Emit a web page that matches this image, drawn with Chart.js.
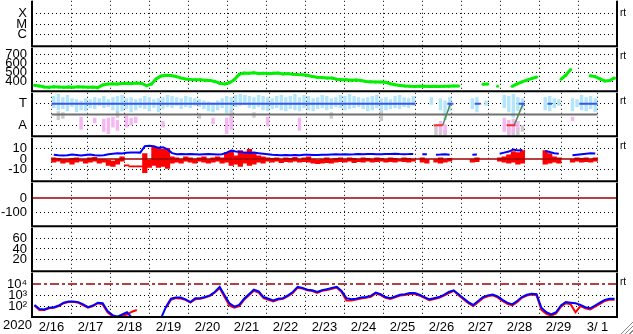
<!DOCTYPE html>
<html>
<head>
<meta charset="utf-8">
<script src="https://cdn.jsdelivr.net/npm/chart.js@4.4.1/dist/chart.umd.min.js"></script>
<style>
  body { margin: 0; background: #fff; width: 633px; height: 334px; position: relative; overflow: hidden;
         font-family: "Liberation Sans", Arial, sans-serif; }
  canvas { position: absolute; left: 0; }
  .rt { position: absolute; left: 620px; font-size: 10px; line-height: 12px; color: #000; }
  #year { position: absolute; left: 3px; top: 318px; font-size: 13px; line-height: 14px; color: #000; }
  #grip { position: absolute; left: 619px; top: 320px; width: 14px; height: 14px;
          background: repeating-linear-gradient(-45deg, #fff 0 2px, #8a8a8a 2px 3px);
          clip-path: polygon(100% 0, 100% 100%, 0 100%); }
</style>
</head>
<body>
<canvas id="xray"></canvas>
<canvas id="speed"></canvas>
<canvas id="sector"></canvas>
<canvas id="bz"></canvas>
<canvas id="dst"></canvas>
<canvas id="kp"></canvas>
<canvas id="flux"></canvas>
<div id="year">2020</div>
<div class="rt" style="top:7px">rt</div>
<div class="rt" style="top:50px">rt</div>
<div class="rt" style="top:95px">rt</div>
<div class="rt" style="top:140px">rt</div>
<div class="rt" style="top:276px">rt</div>
<div id="grip"></div>
<script>
// day labels (one per day, centred at noon), x axis is hours from 2/16 00:00
const dayLabels = ["2/16", "2/17", "2/18", "2/19", "2/20", "2/21", "2/22", "2/23",
  "2/24", "2/25", "2/26", "2/27", "2/28", "2/29", "3/ 1"];

// solar wind speed (km/s), 3-hourly
const speedKms = [
  356, 350, 338, 336, 340, 337, 335, 338, 336, 339,
  337, 334, 336, 330, 360, 370, 375, 372, 378, 380,
  376, 382, 378, 352, 372, 430, 462, 470, 466, 455,
  440, 428, 422, 420, 418, 415, 412, 400, 380, 372,
  385, 420, 480, 495, 492, 498, 490, 494, 488, 492,
  495, 485, 490, 482, 478, 476, 470, 455, 448, 445,
  440, 438, 425, 420, 418, 415, 416, 410, 400, 398,
  395, 394, 390, 375, 362, 355, 348, 346, 344, 347,
  345, 343, 346, 344, 347, 345, 348, 350, null, null,
  null, null, 368, 372, null, 345, null, null, 345, 372,
  395, 415, 432, 450, null, null, null, null, 425, 470,
  535, null, null, null, 465, 455, 430, 405, 410, 440];

// IMF sector (T = toward = 1, A = away = -1), 3-hourly spread of the points
const towardLow = [
  0.6, 0.4, 0.5, 0.3, 0.7, 0.2, 0.4, 0.3, 0.6, 0.5,
  0.8, 0.6, 0.7, 0.4, 0.2, 0.3, 0.5, 0.2, 0.4, 0.6,
  0.5, 0.3, 0.6, 0.2, 0.5, 0.7, 0.6, 0.8, 0.5, 0.7,
  0.6, 0.8, 0.7, 0.5, 0.3, 0.2, 0.4, 0.6, 0.1, 0.3,
  0.7, 0.8, 0.9, 0.6, 0.5, 0.7, 0.4, 0.3, 0.5, 0.6,
  0.4, 0.3, 0.5, 0.4, 0.3, 0.6, 0.4, 0.3, 0.5, 0.6,
  0.4, 0.5, 0.7, 0.6, 0.4, 0.5, 0.6, 0.7, 0.5, 0.3,
  0.4, 0.6, 0.2, 0.4, 0.5, 0.6, 0.5, 0.7, 0.6, 0.8,
  null, null, null, 0.9, null, 0.4, -0.5, 0.3, null, null,
  null, null, 0.5, 0.2, null, 0.8, null, null, null, 0.6,
  0.2, -0.3, 0.3, 0.5, null, null, null, null, 0.4, 0.3,
  0.6, 0.8, null, null, 0.3, 0.7, 0.4, 0.3, 0.5, 0.2];
const towardHigh = [
  1.7, 1.9, 1.6, 1.8, 1.5, 1.4, 1.3, 1.5, 1.4, 1.6,
  1.5, 1.7, 1.4, 1.6, 1.7, 1.8, 1.5, 1.6, 1.4, 1.5,
  1.7, 1.6, 1.4, 1.5, 1.6, 1.8, 1.7, 1.6, 1.5, 1.7,
  1.6, 1.5, 1.4, 1.3, 1.2, 1.1, 1.3, 1.5, 1.7, 1.6,
  1.8, 1.9, 1.8, 1.7, 1.6, 1.8, 1.7, 1.6, 1.5, 1.7,
  1.8, 1.6, 1.7, 1.9, 1.6, 1.8, 1.7, 1.5, 1.6, 1.8,
  1.7, 1.5, 1.6, 1.8, 1.7, 1.9, 1.7, 1.6, 1.5, 1.6,
  1.7, 1.8, 1.5, 1.6, 1.4, 1.7, 1.8, 1.6, 1.5, 1.7,
  null, null, null, 1.6, null, 1.5, 1.3, 1.6, null, null,
  null, null, 1.5, 1.6, null, 1.3, null, null, null, 1.8,
  1.7, 1.9, 1.6, 1.5, null, null, null, null, 1.6, 1.7,
  1.5, 1.4, null, null, 1.5, 1.4, 1.8, 1.6, 1.7, 1.5];
const awayBins = [6, 9, 11, 12, 13, 14, 16, 17, 18, 24, 35, 38, 39, 47, 54, 85, 86, 99, 100, 101, 102, 114];
const awayLow = [-1.4, -0.8, -1.6, -1.8, -1.2, -1.5, -1.2, -1.0, -0.8, -1.2, -0.9, -1.8, -1.4, -1.1, -1.5, -1.5, -1.8, -1.6, -1.9, -1.7, -1.4, -0.6];
const awayHigh = [-0.2, -0.3, -0.4, -0.3, -0.2, -0.5, -0.1, -0.3, -0.2, -0.6, -0.3, -0.3, -0.2, -0.2, -0.3, -0.6, -0.9, -0.3, -0.5, -0.4, -0.6, -0.2];
const mixedBins = [1, 2, 14, 32, 39, 44, 61, 72, 84, 85, 86, 100, 101, 102, 103];
const mixedLow = [-0.5, -0.4, -0.3, -0.4, -0.6, -0.3, -0.4, -0.6, -1.9, -1.9, -1.9, -1.9, -1.9, -1.9, -1.6];
const mixedHigh = [0.3, 0.2, 0.3, 0.1, 0.4, 0.2, 0.2, 0.3, -1.0, -1.3, -1.4, -1.2, -1.3, -1.2, -1.0];
// predicted sector spans (hours)
const towardSpans = [[0, 240], [261, 265], [279, 283], [308, 312], [327, 330], [348, 360]];
const awaySpans = [[252, 258], [300, 306]];
const sectorTurns = [[258, 263], [305, 311]];

// IMF Bt and Bz (nT), 3-hourly
const btNt = [
  4, 3.5, 3.2, 3.6, 4.2, 3.8, 3.4, 3.8, 4.2, 3.6,
  3.2, 3.5, 4.5, 5, 5.5, 5.2, 5.8, 6, 6.2, 6,
  12, 12.5, 12, 10.5, 11, 9, 5.5, 4.5, 4.8, 4.4,
  4.6, 4.5, 4.2, 4.4, 4.6, 4.5, 4.3, 4.5, 6, 8,
  7, 6.5, 6, 5.8, 6, 5.5, 5, 4.5, 4, 3.8,
  3.6, 3.8, 3.5, 3.7, 3.6, 3.9, 4, 3.8, 3.7, 3.9,
  4.1, 4.3, 4.4, 4.2, 4.5, 4.3, 4.4, 4.6, 4.5, 4.8,
  4.7, 4.5, 4.4, 4.6, 4.8, 5, 4.7, 4.5, 4.6, 4.8,
  null, 4.5, 4.5, null, 4, 4.2, 4.5, 4, null, null,
  null, null, 4, 4.2, null, null, null, null, 5, 6,
  7, 9, 8, 8.5, null, null, null, null, 7.5, 6.5,
  5.5, 5, null, null, 3.5, 4, 4.5, 5, 5.5, 5.2];
const bzLow = [
  -3, -2, -4, -3, -5, -3, -2, -4, -3, -2,
  -4, -3, -6, -7, -5, -2, -6.5, -7.5, -7.5, -7.5,
  -13, -8, -6, -8, -7, -9, -4, -3, -4, -2,
  -3, -4, -2, -3, -4, -3, -2, -4, -3, -6,
  -5, -7, -4, -6, -5, -3, -4, -2, -3, -2,
  -3.5, -2.5, -3, -2, -3, -2.5, -3, -4, -4.5, -4,
  -3.5, -4, -3, -2.5, -3, -2, -3.5, -2.5, -3, -2,
  -3, -2.5, -2, -3, -2.5, -3, -2, -2.5, -3, -2,
  null, -3, -4, null, -3, -4, -3, -2, null, null,
  null, null, -3, -2.5, null, null, null, null, -2, -3,
  -4, -3, -5, -4, null, null, null, null, -5, -4,
  -3, -4, null, null, -3, -2, -3, -2.5, -3, -2];
const bzHigh = [
  1, 0.5, 0, -0.5, 0.5, 1, 0, -0.5, 1, 1.5,
  0, -0.5, -1, -2, 0, 2, -5.5, -6.5, -6.5, -6.5,
  5, -1, 12, 11, 9, 10, 2, 1, 0, 2,
  1, 0, 1, 2, 0, 1, 2, 1, 6, 7,
  3, 8, 6, 9, 5, 3, 2, 1, 0.5, 1,
  0, 1, 0.5, 1.5, 0, 1, 2, 0, -1, -0.5,
  1, 0, 0.5, 1, 0, 1, 0.5, 0, 1, 0.5,
  0, 1, 0.5, 0, 1, 0.5, 0, 1, 0.5, 0,
  null, 1, 0, null, 0, 1, 0, 0.5, null, null,
  null, null, 0, 1, null, null, null, null, 1, 2,
  4, 7, 6, 8, null, null, null, null, 8, 5,
  2, 1, null, null, 0, 1, 0.5, 1, 0, 1];

// electron flux, log10 values, 3-hourly
const fluxBlueLog = [
  2.15, 1.8, 1.75, 1.9, 1.95, 2.1, 2.35, 2.45, 2.45, 2.4,
  2.2, 1.95, 2.1, 2.35, 2.3, 1.6, 1.25, 1.1, 1.3, 1.5,
  1.0, null, null, null, null, null, 1.0, 2.0, 2.7, 2.8,
  2.8, 2.65, 2.4, 2.75, 2.75, 2.85, 3.0, 3.3, 3.75, 3.0,
  2.3, 2.0, 2.15, 2.7, 3.1, 3.5, 3.35, 2.85, 2.7, 2.55,
  2.7, 2.75, 3.0, 3.3, 3.75, 3.65, 3.5, 3.45, 3.3, 3.45,
  3.55, 3.65, 3.75, 3.4, 2.75, 2.65, 2.7, 2.8, 2.85, 2.95,
  3.25, 3.1, 2.85, 2.75, 2.9, 3.05, 3.1, 3.2, 3.2, 3.05,
  2.85, 2.65, 2.75, 2.85, 3.05, 3.3, 3.45, 3.1, 2.75, 2.4,
  2.15, 2.5, 2.85, 3.0, 3.08, 2.9, 2.6, 2.35, 2.2, 2.5,
  2.85, 3.05, 3.15, 3.1, 1.9, 1.5, 1.3, 1.5, 2.1, 2.4,
  2.35, 2.3, 2.15, 1.95, 1.85, 2.1, 2.35, 2.6, 2.7, 2.7];
const fluxRedLog = [
  2.1, 1.7, 1.7, 1.85, 1.9, 2.05, 2.3, 2.4, 2.42, 2.35,
  2.12, 1.9, 2.05, 2.3, 2.2, 1.5, 1.15, 1.1, 1.2, 1.3,
  1.55, 1.7, null, null, null, null, null, 1.9, 2.6, 2.75,
  2.72, 2.6, 2.35, 2.65, 2.7, 2.8, 2.95, 3.25, 3.65, 2.85,
  2.1, 1.9, 2.05, 2.6, 3.0, 3.4, 3.25, 2.75, 2.6, 2.45,
  2.62, 2.7, 2.92, 3.2, 3.68, 3.6, 3.45, 3.38, 3.22, 3.4,
  3.48, 3.58, 3.7, 3.3, 2.55, 2.55, 2.62, 2.72, 2.78, 2.88,
  3.18, 3.02, 2.78, 2.68, 2.82, 2.98, 3.02, 3.12, 3.12, 2.98,
  2.78, 2.58, 2.68, 2.78, 2.98, 3.2, 3.4, 3.0, 2.65, 2.3,
  2.05, 2.4, 2.75, 2.92, 3.0, 2.82, 2.5, 2.25, 2.1, 2.4,
  2.78, 2.98, 3.08, 3.0, 1.7, 1.35, 1.2, 1.4, 2.0, 2.3,
  2.2, 1.5, 2.05, 1.85, 1.75, 2.0, 2.25, 2.5, 2.62, 2.6];
const fluxAlert = 10000;

// ---- helpers ----
const totalHours = dayLabels.length * 24;
const binHours = speedKms.map((_, k) => 1.5 + 3 * k);
const points = (vals) => vals.map((v, k) => ({ x: binHours[k], y: v }));
const ranges = (lo, hi) =>
  lo.map((v, k) => (v === null ? null : { x: binHours[k], y: [v, hi[k]] })).filter(Boolean);
const sparseRanges = (bins, lo, hi) => bins.map((b, i) => ({ x: binHours[b], y: [lo[i], hi[i]] }));
const spans = (list, level) => list.flatMap(([a, b]) => [{ x: a, y: level }, { x: b, y: level }, { x: b, y: null }]);
const levelLine = (level) => [{ x: 0, y: level }, { x: totalHours, y: level }];
const font = { family: "'Liberation Sans', Arial, sans-serif", size: 13 };

// draws the black frame round each panel
const framePlugin = {
  id: "frame",
  afterDraw(chart) {
    const { ctx, chartArea: a } = chart;
    ctx.save();
    ctx.strokeStyle = "#000";
    ctx.lineWidth = 2;
    ctx.beginPath();
    ctx.moveTo(a.left, a.top);
    ctx.lineTo(a.left, a.bottom);
    ctx.moveTo(a.right, a.top);
    ctx.lineTo(a.right, a.bottom);
    ctx.moveTo(a.left - 1, a.bottom);
    ctx.lineTo(a.right + 1, a.bottom);
    ctx.stroke();
    ctx.restore();
  },
};

function xAxis(showLabels) {
  return {
    type: "linear",
    min: 0,
    max: totalHours,
    afterBuildTicks: (s) => { s.ticks = dayLabels.map((_, i) => ({ value: 12 + 24 * i })); },
    grid: { offset: true, color: "#000", drawTicks: false },
    border: { display: false, dash: [1, 3] },
    ticks: { display: showLabels, autoSkip: false, maxRotation: 0, padding: 3, color: "#000", font,
      callback: (v, i) => dayLabels[i] },
    afterFit: (s) => { s.height = showLabels ? 17 : 0; },
  };
}

function yAxis(min, max, values, labels, extra = {}) {
  const hidden = extra.hideGrid || [];
  return {
    type: extra.type || "linear",
    min,
    max,
    afterBuildTicks: (s) => { s.ticks = values.map((v) => ({ value: v })); },
    grid: { drawTicks: false, color: (c) => (hidden.includes(c.tick && c.tick.value) ? "rgba(0,0,0,0)" : "#000") },
    border: { display: false, dash: [1, 3] },
    ticks: { autoSkip: false, padding: 5, color: "#000", font, callback: (v, i) => labels[i] },
    afterFit: (s) => { s.width = 32; },
  };
}

function panel(id, top, bottom, y, datasets, showX) {
  const pad = 12;
  const canvas = document.getElementById(id);
  canvas.width = 633;
  canvas.height = bottom - top + pad + (showX ? 17 : pad);
  canvas.style.top = top - pad + "px";
  return new Chart(canvas, {
    type: "line",
    data: { datasets },
    options: {
      responsive: false,
      animation: false,
      events: [],
      layout: { padding: { top: pad, bottom: showX ? 0 : pad, left: 0, right: 16 } },
      plugins: { legend: { display: false }, tooltip: { enabled: false } },
      elements: { point: { radius: 0 }, line: { tension: 0 } },
      scales: { x: xAxis(showX), y },
    },
    plugins: [framePlugin],
  });
}

// X-ray class panel (no data in this period)
panel("xray", 0, 47, yAxis(-0.1, 4.2, [3, 2, 1], ["X", "M", "C"]), [{ data: [] }], false);

// solar wind speed
panel("speed", 47, 92, yAxis(290, 780, [700, 600, 500, 400], ["700", "600", "500", "400"]), [
  { data: points(speedKms), borderColor: "#00f000", borderWidth: 3, pointRadius: 1.5,
    pointBackgroundColor: "#00f000", pointBorderWidth: 0 },
], false);

// IMF sector
panel("sector", 92, 137, yAxis(-2, 2, [1, -1], ["T", "A"]), [
  { data: spans(towardSpans, 1), borderColor: "#3a56ee", borderWidth: 2, order: 0 },
  { data: spans(awaySpans, -1), borderColor: "#ee3030", borderWidth: 2, order: 0 },
  { data: sectorTurns.flatMap(([a, b]) => [{ x: a, y: -1 }, { x: b, y: 1 }, { x: b, y: null }]),
    borderColor: "#4f8a4f", borderWidth: 1.5, order: 0 },
  { data: levelLine(0), borderColor: "#707070", borderWidth: 2, order: 1 },
  { type: "bar", data: ranges(towardLow, towardHigh), backgroundColor: "#b2e6fb", grouped: false,
    barPercentage: 0.75, categoryPercentage: 1, order: 3 },
  { type: "bar", data: sparseRanges(awayBins, awayLow, awayHigh), backgroundColor: "#f5b6f3", grouped: false,
    barPercentage: 0.75, categoryPercentage: 1, order: 2 },
  { type: "bar", data: sparseRanges(mixedBins, mixedLow, mixedHigh), backgroundColor: "#cccccc", grouped: false,
    barPercentage: 0.75, categoryPercentage: 1, order: 2 },
], false);

// Bt / Bz
panel("bz", 137, 182, yAxis(-21, 20, [10, 0, -10], ["10", "0", "-10"], { hideGrid: [0] }), [
  { data: points(btNt), borderColor: "#0000ff", borderWidth: 2, order: 0 },
  { data: levelLine(0), borderColor: "#a00000", borderWidth: 1.5, order: 1 },
  { type: "bar", data: ranges(bzLow, bzHigh), backgroundColor: "#ff0000", grouped: false,
    barPercentage: 1, categoryPercentage: 1, order: 2 },
], false);

// Dst panel (no data)
panel("dst", 182, 227, yAxis(-195, 105, [0, -100], ["0", "-100"], { hideGrid: [0] }), [
  { data: levelLine(0), borderColor: "#a00000", borderWidth: 1.5 },
], false);

// third empty panel
panel("kp", 227, 272, yAxis(-2, 80, [60, 40, 20], ["60", "40", "20"]), [{ data: [] }], false);

// electron flux (log)
panel("flux", 272, 317, yAxis(12, 100000, [10000, 1000, 100], ["10\u2074", "10\u00b3", "10\u00b2"],
  { type: "logarithmic", hideGrid: [10000] }), [
  { data: levelLine(fluxAlert), borderColor: "#a00000", borderWidth: 1.5, borderDash: [9, 3, 3, 3], order: 0 },
  { data: points(fluxBlueLog.map((v) => (v === null ? null : 10 ** v))), borderColor: "#0000ff", borderWidth: 2, order: 1 },
  { data: points(fluxRedLog.map((v) => (v === null ? null : 10 ** v))), borderColor: "#ff0000", borderWidth: 2, order: 2 },
], true);
</script>
</body>
</html>
